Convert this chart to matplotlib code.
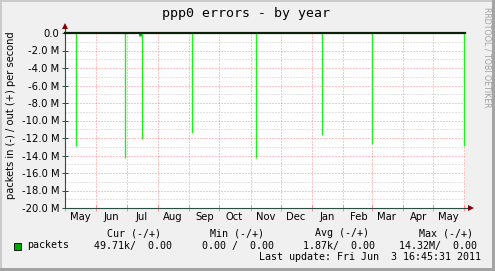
import numpy as np
import matplotlib
matplotlib.use("Agg")
import matplotlib.pyplot as plt
import matplotlib.dates as mdates
from matplotlib.patches import Rectangle
from matplotlib.ticker import MultipleLocator, FuncFormatter
import pandas as pd

# ─────────────────────────────────────────────
#  Data (packets/s in millions, "in" is negative)
# ─────────────────────────────────────────────
spike_dates = pd.to_datetime([
    "2010-05-11 14:00", "2010-06-29 05:00", "2010-07-16 00:00",
    "2010-09-03 14:00", "2010-11-06 14:00", "2011-01-11 00:00",
    "2011-03-01 14:00", "2011-05-31 20:00",
])
spike_in_m = [-12.9, -14.25, -12.15, -11.4, -14.25, -11.7, -12.65, -12.9]

blob_dates = pd.to_datetime(["2010-07-14 08:00"])
blob_in_m = [-0.3]

x_start = pd.Timestamp("2010-05-01 00:00")
x_end = pd.Timestamp("2011-06-01 12:00")

y_min, y_max = -20.0, 0.0

title = "ppp0 errors - by year"
y_label = "packets in (-) / out (+) per second"
legend_name = "packets"
stat_heads = ["Cur (-/+)", "Min (-/+)", "Avg (-/+)", "Max (-/+)"]
stat_vals = ["49.71k/  0.00", "0.00 /  0.00", "1.87k/  0.00", "14.32M/  0.00"]
last_update = "Last update: Fri Jun  3 16:45:31 2011"

# ─────────────────────────────────────────────
#  Style
# ─────────────────────────────────────────────
W_PX, H_PX = 495, 271
BACK = "#f0f0f0"
MGRID = "#ff8c8c"
GRID = "#c8c8c8"
AXIS = "#2c4d43"
ARROW = "#7f0000"
GREEN = "#22ee22"
MONO = "DejaVu Sans Mono"
SANS = "DejaVu Sans"

def fx(px):
    return px / W_PX

def fy(py):
    return 1 - py / H_PX

fig = plt.figure(figsize=(W_PX / 100, H_PX / 100), dpi=100, facecolor=BACK)

# rrdtool style 3d border
fig.patches.append(Rectangle((0, fy(2)), 1, 2 / H_PX, transform=fig.transFigure,
                             color="#cbcbcb", lw=0))
fig.patches.append(Rectangle((0, 0), 2 / W_PX, 1, transform=fig.transFigure,
                             color="#cbcbcb", lw=0))
fig.patches.append(Rectangle((fx(W_PX - 3), 0), 3 / W_PX, 1, transform=fig.transFigure,
                             color="#a4a4a4", lw=0))
fig.patches.append(Rectangle((0, 0), 1, 3 / H_PX, transform=fig.transFigure,
                             color="#a4a4a4", lw=0))

ax = fig.add_axes([fx(65), fy(208), fx(465) - fx(65), fy(33) - fy(208)])
ax.set_facecolor("white")

# ── grid ─────────────────────────────────────
ax.set_ylim(y_min, y_max)
ax.set_xlim(x_start, x_end)
ax.yaxis.set_major_locator(MultipleLocator(2))
ax.yaxis.set_minor_locator(MultipleLocator(1))
ax.yaxis.set_major_formatter(FuncFormatter(
    lambda v, p: "0.0" if abs(v) < 1e-9 else f"{v:.1f} M"))

ax.xaxis.set_major_locator(mdates.MonthLocator())
ax.xaxis.set_minor_locator(mdates.MonthLocator(bymonthday=16))
ax.xaxis.set_major_formatter(plt.NullFormatter())
ax.xaxis.set_minor_formatter(mdates.DateFormatter("%b"))

ax.grid(which="minor", axis="y", color=GRID, lw=0.72, ls=(0, (1, 2)))
ax.grid(which="major", axis="y", color=MGRID, lw=0.72, ls=(0, (1, 2)))
ax.grid(which="major", axis="x", color=MGRID, lw=0.72, ls=(0, (1, 2)))
ax.set_axisbelow(True)

ax.tick_params(axis="y", which="major", direction="inout", length=4,
               width=0.7, color=AXIS, labelsize=7.2, pad=2)
ax.tick_params(axis="y", which="minor", length=0)
ax.tick_params(axis="x", which="major", direction="inout", length=4,
               width=0.7, color=MGRID)
ax.tick_params(axis="x", which="minor", length=0, labelsize=7.2, pad=3)
for lbl in ax.get_xticklabels(minor=True) + ax.get_yticklabels():
    lbl.set_fontfamily(SANS)

# ── data ─────────────────────────────────────
ax.vlines(spike_dates, 0, spike_in_m, color=GREEN, lw=1.0, zorder=3)
ax.vlines(blob_dates, 0, blob_in_m, color="#11bb11", lw=2.2, zorder=3)
ax.axhline(0, color="#0a200a", lw=1.6, zorder=4, clip_on=False)

# ── axes + arrows ────────────────────────────
for s in ["top", "right"]:
    ax.spines[s].set_visible(False)
ax.spines["left"].set_color(AXIS)
ax.spines["bottom"].set_color(AXIS)
ax.spines["left"].set_linewidth(0.8)
ax.spines["bottom"].set_linewidth(0.8)
ax.plot([0, 0], [1, 1.025], color=AXIS, lw=0.8, transform=ax.transAxes, clip_on=False)
ax.plot([1, 1.012], [0, 0], color=AXIS, lw=0.8, transform=ax.transAxes, clip_on=False)
ax.plot([0], [1.04], marker="^", ms=4.2, color=ARROW, transform=ax.transAxes,
        clip_on=False, mew=0)
ax.plot([1.0145], [0], marker=">", ms=4.2, color=ARROW, transform=ax.transAxes,
        clip_on=False, mew=0)

# ── texts ────────────────────────────────────
fig.text(fx(246), fy(14), title, ha="center", va="center",
         fontsize=9.5, family=MONO)
fig.text(fx(11), fy(115), y_label, ha="center", va="center", rotation=90,
         fontsize=7.1, family=SANS)
fig.text(fx(487), fy(57), "RRDTOOL / TOBI OETIKER", ha="center", va="center",
         rotation=270, fontsize=5.7, family=SANS, color="#a0a0a0")

head_x = [107, 210, 315, 419]
val_x = [94, 202, 303, 399]
for x, s in zip(head_x, stat_heads):
    fig.text(fx(x), fy(233.5), s, ha="left", va="center", fontsize=7.2, family=MONO)
for x, s in zip(val_x, stat_vals):
    fig.text(fx(x), fy(245.5), s, ha="left", va="center", fontsize=7.2, family=MONO)
fig.text(fx(27), fy(245.5), legend_name, ha="left", va="center", fontsize=7.2, family=MONO)
fig.patches.append(Rectangle((fx(13.5), fy(249.5)), 7 / W_PX, 7 / H_PX,
                             transform=fig.transFigure, facecolor="#00a800",
                             edgecolor="black", lw=0.6))
fig.text(fx(259), fy(257.5), last_update, ha="left", va="center",
         fontsize=7.2, family=MONO)

fig.savefig("out.png", dpi=100, facecolor=fig.get_facecolor())
